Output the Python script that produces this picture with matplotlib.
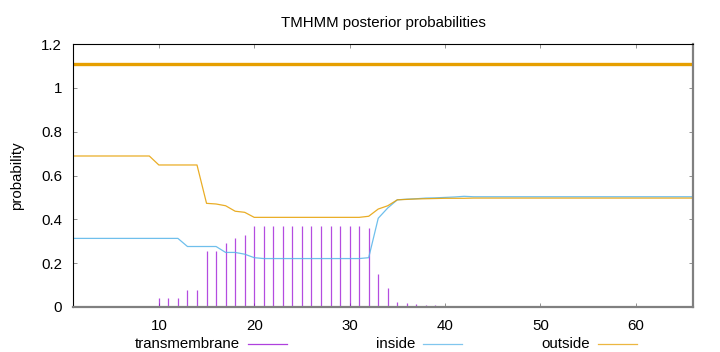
import matplotlib
matplotlib.use('agg')
import matplotlib.pyplot as plt
from matplotlib.lines import Line2D
import numpy as np

plt.rcParams['font.family'] = ['Liberation Sans', 'DejaVu Sans']

# sequence positions 1..66
positions = list(range(1, 67))

# posterior probabilities
transmembrane = ([0.0] * 9 + [0.042] * 3 + [0.077] * 2 +
                 [0.255, 0.256, 0.290, 0.316, 0.328, 0.368] + [0.371] * 11 +
                 [0.362, 0.149, 0.087, 0.023, 0.018, 0.014, 0.010, 0.008,
                  0.006, 0.004, 0.003, 0.002] + [0.0] * 23)
inside = ([0.313] * 12 + [0.276] * 4 + [0.249, 0.249, 0.241, 0.225] +
          [0.221] * 11 +
          [0.225, 0.405, 0.452, 0.489, 0.492, 0.494, 0.497, 0.498, 0.500,
           0.502, 0.505] + [0.503] * 24)
outside = ([0.689] * 9 + [0.648] * 5 +
           [0.473, 0.470, 0.462, 0.437, 0.432] + [0.409] * 12 +
           [0.414, 0.447, 0.462, 0.489, 0.491, 0.493, 0.494, 0.495] +
           [0.496] * 3 + [0.497] * 24)
topology = [1.11] * 66   # predicted topology: all outside

tmColor = '#9400d3'
inColor = '#56b4e9'
outColor = '#e69f00'
fs = 10.8

fig = plt.figure(figsize=(7.2, 3.52), dpi=100)
ax = fig.add_axes([73 / 720, 1 - 307 / 352, 620 / 720, 263 / 352])

ax.vlines(positions, 0, transmembrane, color=tmColor, lw=0.9, alpha=0.7)
ax.plot(positions, inside, color=inColor, lw=0.9, alpha=0.85)
ax.plot(positions, outside, color=outColor, lw=0.9, alpha=0.85)
ax.plot(positions, topology, color=outColor, lw=2.4, solid_capstyle='butt')

ax.set_xlim(1, 66)
ax.set_ylim(0, 1.2)
ax.set_xticks([10, 20, 30, 40, 50, 60])
ax.set_yticks([0, 0.2, 0.4, 0.6, 0.8, 1.0, 1.2])
ax.set_yticklabels(['0', '0.2', '0.4', '0.6', '0.8', '1', '1.2'])
ax.tick_params(direction='in', length=3, width=0.6, color='#808080',
               top=True, right=True, labelsize=fs)
ax.tick_params(axis='x', pad=9)
ax.tick_params(axis='y', pad=8)
for side in ['left', 'top']:
    ax.spines[side].set_color('black')
    ax.spines[side].set_linewidth(0.8)
for side in ['bottom', 'right']:
    ax.spines[side].set_color('#808080')
    ax.spines[side].set_linewidth(1.6)

ax.set_title('TMHMM posterior probabilities', fontsize=fs, pad=12)
ax.set_ylabel('probability', fontsize=fs, labelpad=12)

# gnuplot style key: text then line sample
keyLabels = ['transmembrane', 'inside', 'outside']
keyColors = [tmColor, inColor, outColor]
keyStarts = [248, 423, 598]
keyY = 1 - 344 / 352
for label, color, x0 in zip(keyLabels, keyColors, keyStarts):
    fig.text((x0 - 8) / 720, keyY, label, ha='right', va='center', fontsize=fs)
    fig.add_artist(Line2D([x0 / 720, (x0 + 39) / 720], [keyY, keyY],
                          color=color, lw=0.9, alpha=0.75))

plt.savefig('out.png', dpi=100)
